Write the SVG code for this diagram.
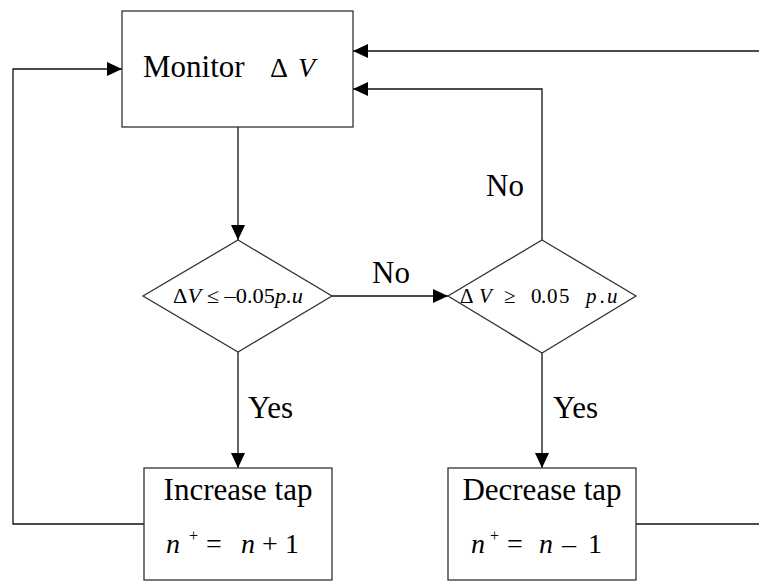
<svg xmlns="http://www.w3.org/2000/svg" width="759" height="581" viewBox="0 0 759 581">
  <style>
    .box { fill: #ffffff; stroke: #333333; stroke-width: 1.3; }
    .wire { fill: none; stroke: #111111; stroke-width: 1.3; }
    .lbl { font-family: "Liberation Serif", "Times New Roman", serif; fill: #000000; }
    .it { font-style: italic; }
  </style>
  <defs>
    <marker id="arrow" markerWidth="15" markerHeight="14" refX="15" refY="7" orient="auto" markerUnits="userSpaceOnUse">
      <path d="M0,0 L15,7 L0,14 Z" fill="#000000"/>
    </marker>
  </defs>

  <!-- connectors -->
  <g id="connectors">
    <path class="wire" d="M238,127 V240" marker-end="url(#arrow)"/>
    <path class="wire" d="M332,296 H448" marker-end="url(#arrow)"/>
    <path class="wire" d="M238,352 V468" marker-end="url(#arrow)"/>
    <path class="wire" d="M542,353 V468" marker-end="url(#arrow)"/>
    <path class="wire" d="M542,240 V89 H353" marker-end="url(#arrow)"/>
    <path class="wire" d="M759,51 H353" marker-end="url(#arrow)"/>
    <path class="wire" d="M636,524 H759"/>
    <path class="wire" d="M144,524 H13 V69 H122" marker-end="url(#arrow)"/>
    <text class="lbl" x="372" y="283" font-size="31">No</text>
    <text class="lbl" x="486" y="196" font-size="31">No</text>
    <text class="lbl" x="248" y="418" font-size="31">Yes</text>
    <text class="lbl" x="553" y="418" font-size="31">Yes</text>
  </g>

  <!-- monitor block -->
  <g id="monitor">
    <rect class="box" x="122" y="11" width="231" height="116"/>
    <text class="lbl" x="143" y="77" font-size="31">Monitor</text>
    <text class="lbl" font-size="28" y="77"><tspan x="270">Δ</tspan><tspan class="it" x="298">V</tspan></text>
  </g>

  <!-- undervoltage check -->
  <g id="check-low">
    <polygon class="box" points="238,240 332,296 238,352 143,296"/>
    <text class="lbl" x="173" y="303" font-size="21" textLength="130" lengthAdjust="spacingAndGlyphs">Δ<tspan class="it">V</tspan> ≤ –0.05<tspan class="it">p.u</tspan></text>
  </g>

  <!-- overvoltage check -->
  <g id="check-high">
    <polygon class="box" points="542,240 636,296 542,353 448,296"/>
    <text class="lbl" y="303" font-size="21"><tspan x="460">Δ</tspan><tspan class="it" x="479">V</tspan><tspan x="504">≥</tspan><tspan x="531">0</tspan><tspan x="541">.</tspan><tspan x="547">0</tspan><tspan x="559">5</tspan><tspan class="it" x="586">p</tspan><tspan class="it" x="600">.</tspan><tspan class="it" x="607">u</tspan></text>
  </g>

  <!-- tap raise -->
  <g id="increase-tap">
    <rect class="box" x="144" y="468" width="188" height="112"/>
    <text class="lbl" x="238" y="500" font-size="31" text-anchor="middle">Increase tap</text>
    <text class="lbl" y="553" font-size="28"><tspan class="it" x="166">n</tspan><tspan x="189" y="541" font-size="16">+</tspan><tspan x="206" y="553">=</tspan><tspan class="it" x="241">n</tspan><tspan x="262">+</tspan><tspan x="285">1</tspan></text>
  </g>

  <!-- tap lower -->
  <g id="decrease-tap">
    <rect class="box" x="448" y="468" width="188" height="112"/>
    <text class="lbl" x="542" y="500" font-size="31" text-anchor="middle">Decrease tap</text>
    <text class="lbl" y="553" font-size="28"><tspan class="it" x="471">n</tspan><tspan x="490" y="541" font-size="16">+</tspan><tspan x="507" y="553">=</tspan><tspan class="it" x="539">n</tspan><tspan x="562">–</tspan><tspan x="588">1</tspan></text>
  </g>
</svg>
